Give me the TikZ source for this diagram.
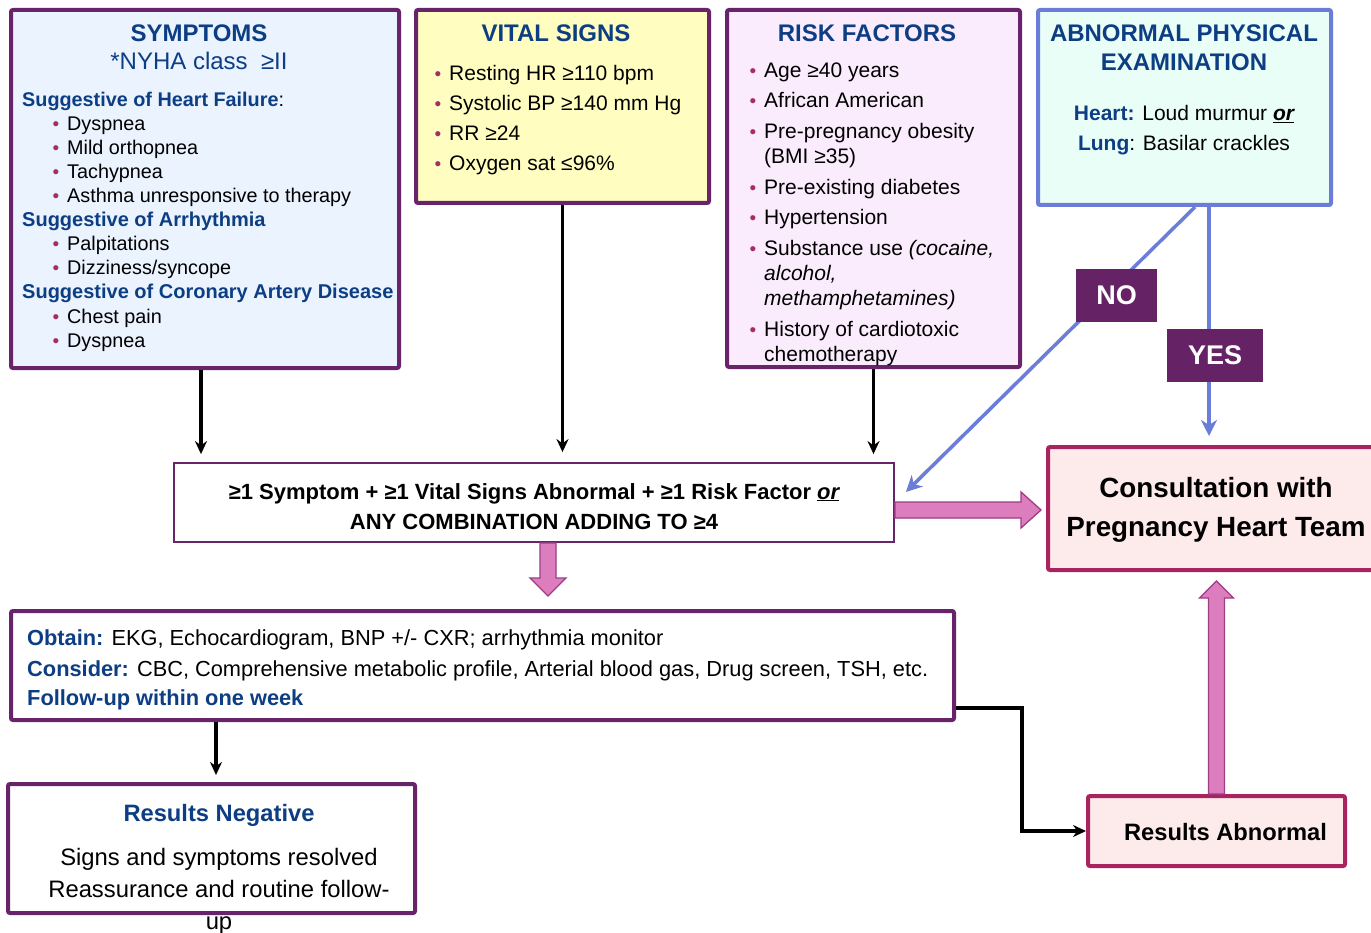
\documentclass[tikz,border=0pt]{standalone}
\usepackage{fontspec}
\setmainfont{Liberation Sans}
\usetikzlibrary{arrows.meta,calc}

\definecolor{frame}{HTML}{68246B}
\definecolor{head}{HTML}{0D3E84}
\definecolor{dot}{HTML}{A62C64}
\definecolor{symfill}{HTML}{EAF3FE}
\definecolor{vitfill}{HTML}{FFFEC0}
\definecolor{riskfill}{HTML}{FAECFC}
\definecolor{examfill}{HTML}{EAFEF8}
\definecolor{exline}{HTML}{6A7DD8}
\definecolor{consfill}{HTML}{FDEAEB}
\definecolor{consline}{HTML}{A8235F}
\definecolor{blockfill}{HTML}{DC7EBD}
\definecolor{blockline}{HTML}{9E3C86}
\definecolor{tagfill}{HTML}{652365}

\newcommand{\fs}[1]{\fontsize{#1}{#1}\selectfont}
\newcommand{\bul}{\llap{\textcolor{dot}{\fs{19}\textbullet}\hspace{8pt}}}

% block arrows (filled, outlined), drawn between boxes
\newcommand{\rightblock}[1]{\filldraw[#1] let \p1=(mid.east), \p2=(cons.west) in
  (\x1,\y1+0.5pt) -- (\x2-25pt,\y1+0.5pt) -- (\x2-25pt,\y1+10.5pt) -- (\x2-5pt,\y1-7.5pt)
  -- (\x2-25pt,\y1-25.5pt) -- (\x2-25pt,\y1-15.5pt) -- (\x1,\y1-15.5pt) -- cycle;}
\newcommand{\downblock}[1]{\filldraw[#1] let \p1=(mid.south), \p2=(obt.north) in
  (\x1+6pt,\y1) -- (\x1+6pt,\y2+31pt) -- (\x1-4pt,\y2+31pt) -- (\x1+14pt,\y2+13pt)
  -- (\x1+32pt,\y2+31pt) -- (\x1+22pt,\y2+31pt) -- (\x1+22pt,\y1) -- cycle;}
\newcommand{\upblock}[1]{\filldraw[#1] let \p1=(abn.north), \p2=(cons.south) in
  (\x1-8pt,\y1) -- (\x1-8pt,\y2-26pt) -- (\x1-17pt,\y2-26pt) -- (\x1,\y2-9pt)
  -- (\x1+17pt,\y2-26pt) -- (\x1+8pt,\y2-26pt) -- (\x1+8pt,\y1) -- cycle;}

\tikzset{
  box/.style={draw=frame, line width=4pt, rounded corners=2pt, inner sep=0pt},
  ln/.style={anchor=base west, inner sep=0pt},
  lnc/.style={anchor=base, inner sep=0pt},
  conn/.style={line width=3.8pt, -{Stealth[length=13pt,width=12pt]}},
  bconn/.style={draw=exline, line width=3.5pt, -{Stealth[length=16pt,width=16pt,inset=5pt]}},
  tag/.style={fill=tagfill, text=white, font=\fs{27}\bfseries, inner sep=0pt},
  block/.style={fill=blockfill, draw=blockline, line width=1.3pt, line join=miter},
  blockshadow/.style={fill=black, draw=none, opacity=0.18},
}

\begin{document}
\begin{tikzpicture}[x=1pt, y=-1pt]
\useasboundingbox (0,0) rectangle (1371,933);
\fill[white] (0,0) rectangle (1371,933);
\clip (0,0) rectangle (1371,933);

% ---------- boxes ----------
\node[box, fill=symfill, minimum width=388, minimum height=358] (sym) at (205,189) {};
\node[box, fill=vitfill, minimum width=293, minimum height=193] (vit) at (562.5,106.5) {};
\node[box, fill=riskfill, minimum width=293, minimum height=357] (risk) at (873.5,188.5) {};
\node[box, draw=exline, fill=examfill, minimum width=293, minimum height=195] (exam) at (1184.5,107.5) {};
\node[box, fill=white, line width=1.8pt, rounded corners=0pt, minimum width=720, minimum height=79] (mid) at (534,502.5) {};
\node[box, draw=consline, fill=consfill, minimum width=327, minimum height=123] (cons) at (1211.5,508.5) {};
\node[box, fill=white, minimum width=943, minimum height=109] (obt) at (482.5,665.5) {};
\node[box, fill=white, minimum width=407, minimum height=129] (neg) at (211.5,848.5) {};
\node[box, draw=consline, fill=consfill, minimum width=257, minimum height=70] (abn) at (1216.5,831) {};

% ---------- symptoms ----------
\node[lnc, font=\fs{24}\bfseries, text=head] (symT) at (199,41.5) {SYMPTOMS};
\node[lnc, font=\fs{24}, text=head] (symN) at (199,70) {*NYHA class~~≥II};
\begin{scope}[font=\fs{19.8}]
\node[ln] (symH1) at (22,107) {\textcolor{head}{\bfseries Suggestive of Heart Failure}:};
\foreach \t [count=\i] in {Dyspnea, Mild orthopnea, Tachypnea, Asthma unresponsive to therapy}
  \node[ln] (symA\i) at (67,{107+24*\i}) {\bul\t};
\node[ln, text=head, font=\fs{20}\bfseries] (symH2) at (22,227) {Suggestive of Arrhythmia};
\foreach \t [count=\i] in {Palpitations, Dizziness/syncope}
  \node[ln] (symB\i) at (67,{227+24*\i}) {\bul\t};
\node[ln, text=head, font=\fs{20}\bfseries] (symH3) at (22,299) {Suggestive of Coronary Artery Disease};
\foreach \t [count=\i] in {Chest pain, Dyspnea}
  \node[ln] (symC\i) at (67,{299+24.5*\i}) {\bul\t};
\end{scope}

% ---------- vital signs ----------
\node[lnc, font=\fs{24}\bfseries, text=head] (vitT) at (556,41.5) {VITAL SIGNS};
\begin{scope}[font=\fs{21}]
\foreach \t [count=\i] in {Resting HR ≥110 bpm, Systolic BP ≥140 mm Hg, RR ≥24, Oxygen sat ≤96\%}
  \node[ln] (vit\i) at (449,{51+30*\i}) {\bul\t};
\end{scope}

% ---------- risk factors ----------
\node[lnc, font=\fs{24}\bfseries, text=head] (riskT) at (867,41.5) {RISK FACTORS};
\begin{scope}[font=\fs{21}]
\node[ln] (rk1) at (764,77.5) {\bul Age ≥40 years};
\node[ln] (rk2) at (764,107.5) {\bul African American};
\node[ln] (rk3) at (764,138.5) {\bul Pre-pregnancy obesity};
\node[ln] (rk3b) at (764,163.5) {(BMI ≥35)};
\node[ln] (rk4) at (764,194.5) {\bul Pre-existing diabetes};
\node[ln] (rk5) at (764,224.5) {\bul Hypertension};
\node[ln] (rk6) at (764,255.5) {\bul Substance use \textit{(cocaine,}};
\node[ln] (rk6b) at (764,280.5) {\textit{alcohol,}};
\node[ln] (rk6c) at (764,305.5) {\textit{methamphetamines)}};
\node[ln] (rk7) at (764,336.5) {\bul History of cardiotoxic};
\node[ln] (rk7b) at (764,361.5) {chemotherapy};
\end{scope}

% ---------- physical examination ----------
\node[lnc, font=\fs{24}\bfseries, text=head] (exT1) at (1184,41.5) {ABNORMAL PHYSICAL};
\node[lnc, font=\fs{24}\bfseries, text=head] (exT2) at (1184,70.5) {EXAMINATION};
\node[lnc, font=\fs{21}] (ex1) at (1184,120.5) {\textcolor{head}{\bfseries Heart:} Loud murmur \underline{\bfseries\itshape or}};
\node[lnc, font=\fs{21}] (ex2) at (1184,150.5) {\textcolor{head}{\bfseries Lung}: Basilar crackles};

% ---------- criteria ----------
\node[lnc, font=\fs{22}\bfseries] (mid1) at (534,499) {≥1 Symptom + ≥1 Vital Signs Abnormal + ≥1 Risk Factor \underline{\itshape or}};
\node[lnc, font=\fs{22}\bfseries] (mid2) at (534,529) {ANY COMBINATION ADDING TO ≥4};

% ---------- consultation ----------
\node[lnc, font=\fs{27.8}\bfseries] (cons1) at (1216,497) {Consultation with};
\node[lnc, font=\fs{27.8}\bfseries] (cons2) at (1216,536) {Pregnancy Heart Team};

% ---------- work-up ----------
\begin{scope}[font=\fs{21.8}]
\node[ln] (ob1) at (27,645) {\textcolor{head}{\bfseries Obtain:} EKG, Echocardiogram, BNP +/- CXR; arrhythmia monitor};
\node[ln] (ob2) at (27,676) {\textcolor{head}{\bfseries Consider:} CBC, Comprehensive metabolic profile, Arterial blood gas, Drug screen, TSH, etc.};
\node[ln, text=head, font=\fs{21.8}\bfseries] (ob3) at (27,705) {Follow-up within one week};
\end{scope}

% ---------- results ----------
\node[lnc, font=\fs{23.7}\bfseries, text=head] (negT) at (219,821) {Results Negative};
\begin{scope}[font=\fs{23.8}]
\node[lnc] (neg1) at (219,865) {Signs and symptoms resolved};
\node[lnc] (neg2) at (219,897) {Reassurance and routine follow-};
\node[lnc] (neg3) at (219,929) {up};
\end{scope}
\node[lnc, font=\fs{23.7}\bfseries] (abnT) at (1225.5,840.5) {Results Abnormal};

% ---------- connectors ----------
\coordinate (symOut) at ([xshift=-4pt]sym.south);
\draw[conn, shorten >=8pt] (symOut) -- (symOut |- mid.north);
\draw[conn, shorten >=10pt] (vit.south) -- (vit.south |- mid.north);
\draw[conn, shorten >=8pt] (risk.south) -- (risk.south |- mid.north);

\coordinate (noFrom) at ([xshift=10.5pt]exam.south);
\coordinate (noTo) at ([xshift=11pt,yshift=10.5pt]mid.east);
\draw[bconn] (noFrom) -- (noTo);
\coordinate (yesFrom) at ([xshift=24.5pt]exam.south);
\draw[bconn, shorten >=9pt] (yesFrom) -- (yesFrom |- cons.north);
\node[tag, minimum width=81, minimum height=53] (no) at (1116.5,295.5) {NO};
\node[tag, minimum width=96, minimum height=53] (yes) at (1215,355.5) {YES};

\draw[conn, line join=miter] ([yshift=-42.5pt]obt.east) -- ++(66,0) |- (abn.west);
\coordinate (negIn) at ([xshift=4.5pt]neg.north);
\draw[conn, shorten >=7pt] (negIn |- obt.south) -- (negIn);

% block arrows with soft shadow
\begin{scope}[shift={(3,4)}]
\rightblock{blockshadow}
\downblock{blockshadow}
\upblock{blockshadow}
\end{scope}
\rightblock{block}
\downblock{block}
\upblock{block}
\end{tikzpicture}
\end{document}
